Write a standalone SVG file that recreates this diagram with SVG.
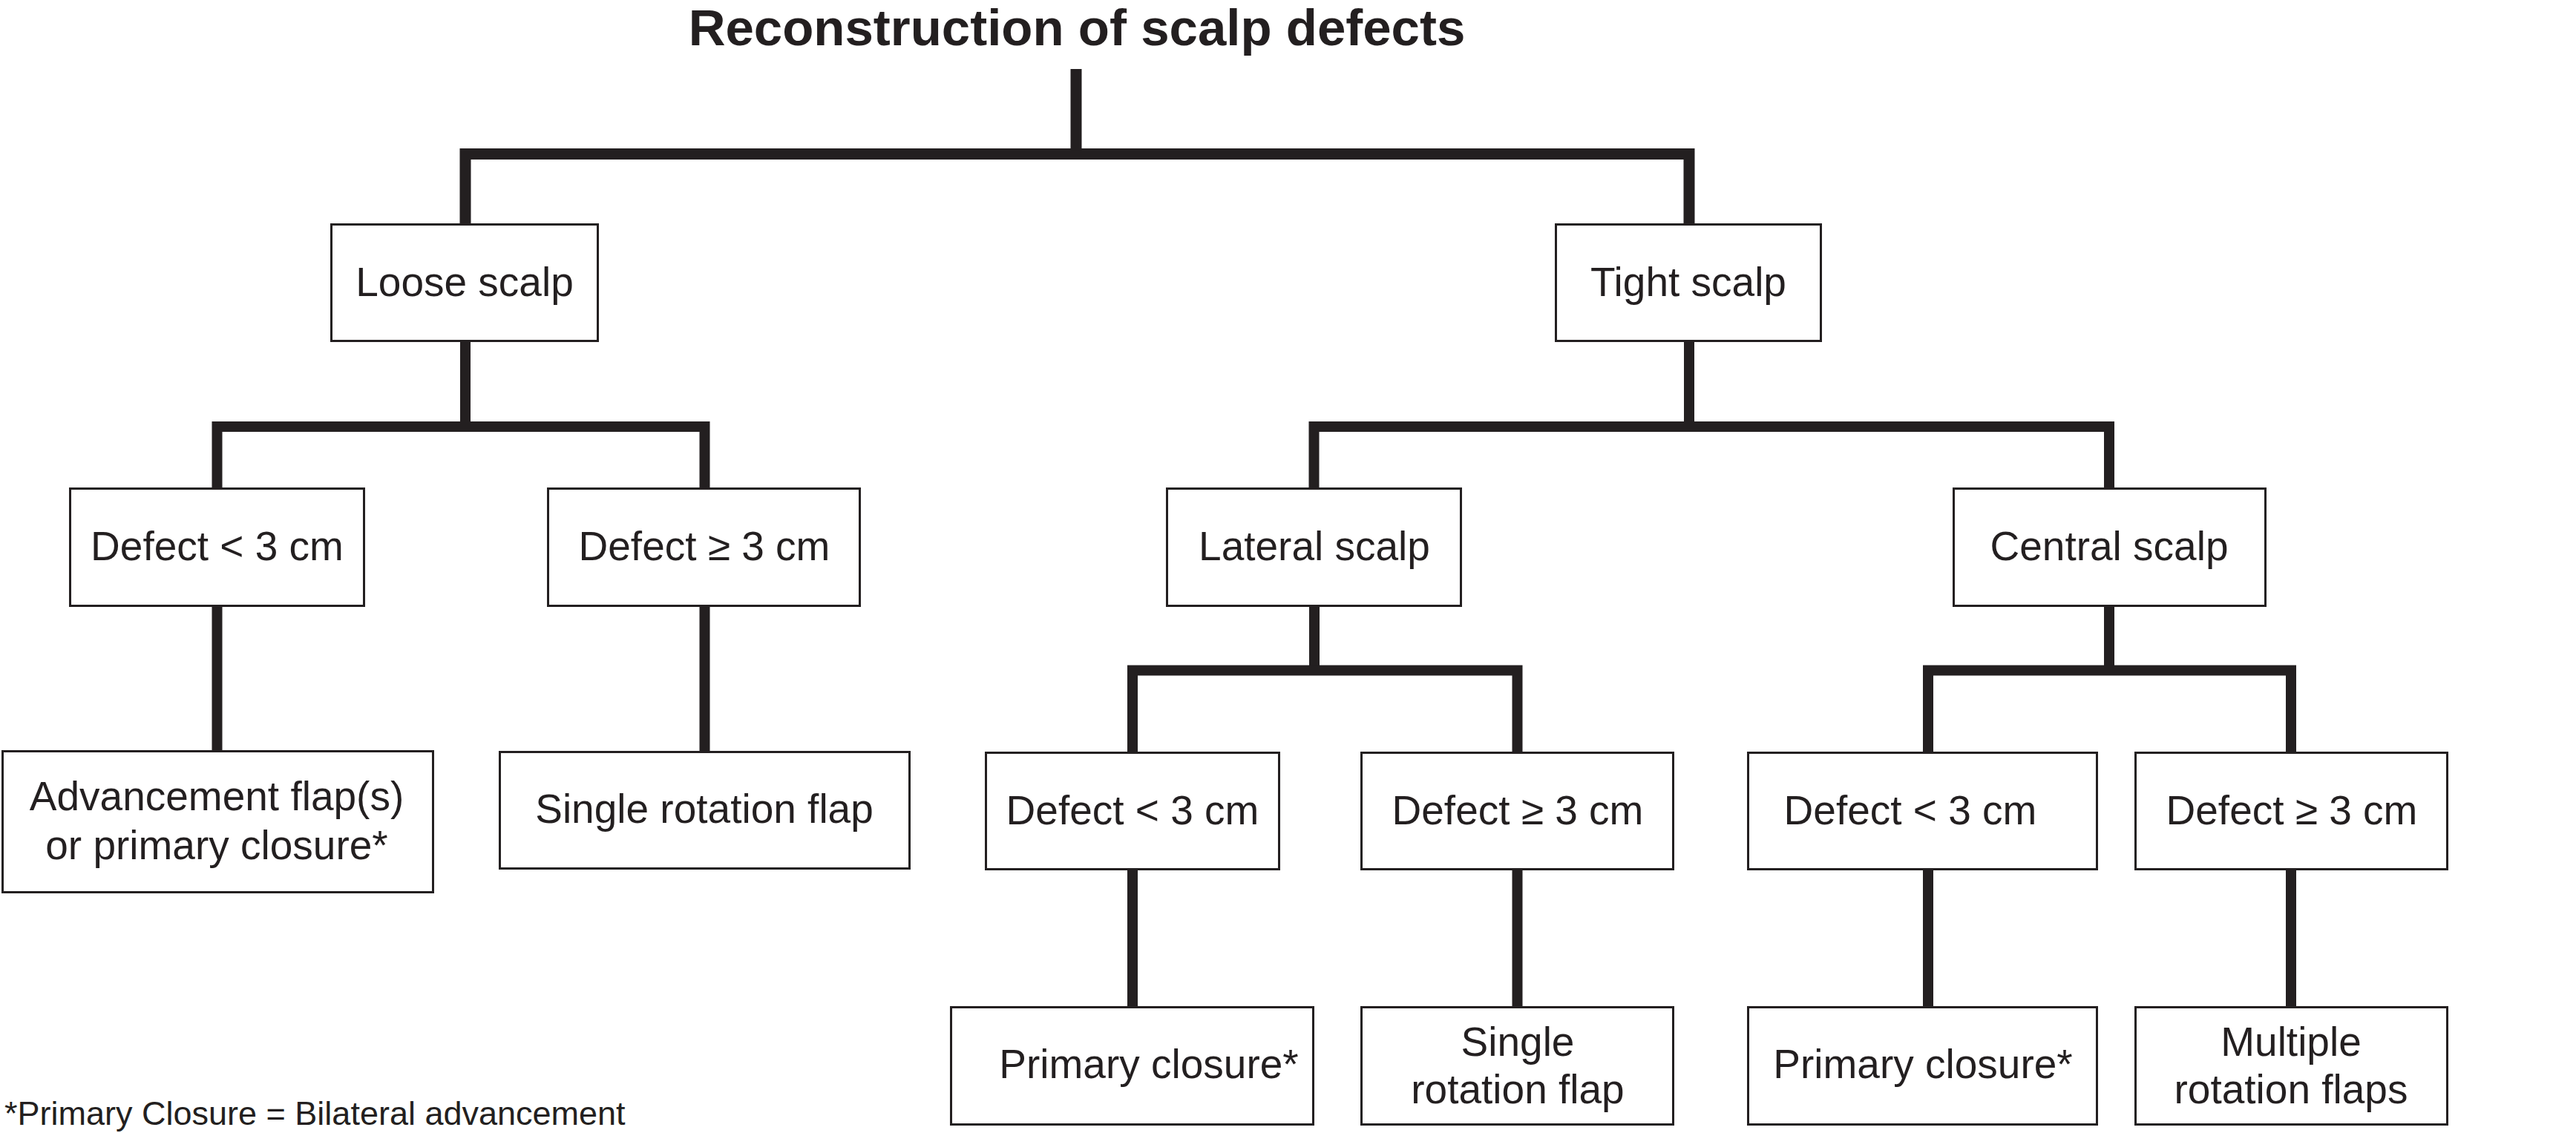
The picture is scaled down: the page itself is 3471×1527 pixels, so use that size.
<svg xmlns="http://www.w3.org/2000/svg" width="3471" height="1527" viewBox="0 0 3471 1527">
<style>
.box{fill:#fff;stroke:#231f20;stroke-width:3}
.t{font-family:"Liberation Sans",Arial,sans-serif;font-size:55px;fill:#231f20;text-anchor:middle}
.title{font-family:"Liberation Sans",Arial,sans-serif;font-size:69px;font-weight:bold;fill:#231f20;text-anchor:middle}
.note{font-family:"Liberation Sans",Arial,sans-serif;font-size:45px;fill:#231f20}
.c{fill:none;stroke:#231f20;stroke-width:14;stroke-linejoin:miter;stroke-linecap:butt}
</style>
<rect width="3471" height="1527" fill="#fff"/>
<text class="title" x="1451" y="61">Reconstruction of scalp defects</text>
<g id="connectors">
<path class="c" style="stroke-width:15" d="M1450 93 V207"/>
<path class="c" style="stroke-width:15" d="M627 301 V207.5 H2276 V301"/>
<path class="c" d="M627 461 V575"/>
<path class="c" d="M292.5 657 V575 H949.5 V657"/>
<path class="c" d="M292.5 818 V1011"/>
<path class="c" d="M949.5 818 V1012"/>
<path class="c" d="M2276 461 V575"/>
<path class="c" d="M1770.5 657 V575 H2842 V657"/>
<path class="c" d="M1771 818 V903.5"/>
<path class="c" d="M1526 1013 V903.5 H2044.5 V1013"/>
<path class="c" d="M1526 1173 V1356"/>
<path class="c" d="M2044.5 1173 V1356"/>
<path class="c" d="M2842 818 V903.5"/>
<path class="c" d="M2598 1013 V903.5 H3087 V1013"/>
<path class="c" d="M2598 1173 V1356"/>
<path class="c" d="M3087 1173 V1356"/>
</g>
<g id="loose"><rect class="box" x="446.5" y="302.5" width="359" height="157"/><text class="t" x="626" y="399">Loose scalp</text></g>
<g id="tight"><rect class="box" x="2096.5" y="302.5" width="357" height="157"/><text class="t" x="2275" y="399">Tight scalp</text></g>
<g id="loose-lt3"><rect class="box" x="94.5" y="658.5" width="396" height="158"/><text class="t" x="292.5" y="755">Defect &lt; 3 cm</text></g>
<g id="loose-ge3"><rect class="box" x="738.5" y="658.5" width="420" height="158"/><text class="t" x="949" y="755">Defect ≥ 3 cm</text></g>
<g id="advancement"><rect class="box" x="3.5" y="1012.5" width="580" height="190"/><text class="t" x="292" y="1092">Advancement flap(s)</text><text class="t" x="292" y="1158">or primary closure*</text></g>
<g id="single-rotation-1"><rect class="box" x="673.5" y="1013.5" width="552" height="157"/><text class="t" x="949" y="1109">Single rotation flap</text></g>
<g id="lateral"><rect class="box" x="1572.5" y="658.5" width="396" height="158"/><text class="t" x="1771" y="755">Lateral scalp</text></g>
<g id="central"><rect class="box" x="2632.5" y="658.5" width="420" height="158"/><text class="t" x="2842" y="755">Central scalp</text></g>
<g id="lateral-lt3"><rect class="box" x="1328.5" y="1014.5" width="395" height="157"/><text class="t" x="1526" y="1111">Defect &lt; 3 cm</text></g>
<g id="lateral-ge3"><rect class="box" x="1834.5" y="1014.5" width="420" height="157"/><text class="t" x="2045" y="1111">Defect ≥ 3 cm</text></g>
<g id="central-lt3"><rect class="box" x="2355.5" y="1014.5" width="470" height="157"/><text class="t" x="2574" y="1111">Defect &lt; 3 cm</text></g>
<g id="central-ge3"><rect class="box" x="2877.5" y="1014.5" width="420" height="157"/><text class="t" x="3088" y="1111">Defect ≥ 3 cm</text></g>
<g id="lateral-primary"><rect class="box" x="1281.5" y="1357.5" width="488" height="158"/><text class="t" x="1548" y="1453">Primary closure*</text></g>
<g id="lateral-single"><rect class="box" x="1834.5" y="1357.5" width="420" height="158"/><text class="t" x="2045" y="1423">Single</text><text class="t" x="2045" y="1487">rotation flap</text></g>
<g id="central-primary"><rect class="box" x="2355.5" y="1357.5" width="470" height="158"/><text class="t" x="2591" y="1453">Primary closure*</text></g>
<g id="central-multiple"><rect class="box" x="2877.5" y="1357.5" width="420" height="158"/><text class="t" x="3087" y="1423">Multiple</text><text class="t" x="3087" y="1487">rotation flaps</text></g>
<text class="note" x="6" y="1516">*Primary Closure = Bilateral advancement</text>
</svg>
